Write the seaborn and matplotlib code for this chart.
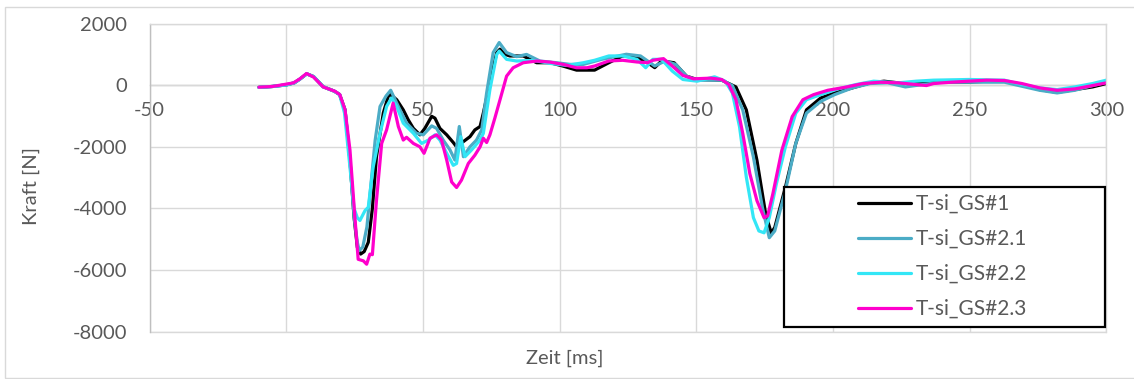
import numpy as np
import pandas as pd
import matplotlib
matplotlib.use("Agg")
import matplotlib.pyplot as plt
import matplotlib.patches as mpatches
import seaborn as sns

# ---------------- data ----------------
series_names = ["T-si_GS#1", "T-si_GS#2.1", "T-si_GS#2.2", "T-si_GS#2.3"]

t_gs1 = [-10, -5, 0, 3, 5, 7.5, 10, 13.5, 17.5, 19.5, 21.5, 23.3, 24.8, 26, 27.2, 28.5, 30, 31.5, 33, 35.5, 37.3,
         38.2, 40.4, 42.8, 44.6, 46.5, 48.9, 50.7, 53.2, 54.4, 56.2, 58.7, 61.1, 62.3, 64.8, 67.2, 69, 70.9, 72.1,
         74.5, 77, 78.2, 80, 81.8, 86.7, 91.6, 96.5, 101.3, 106.2, 112.8, 118, 123, 128.3, 132.2, 134.8, 137.3,
         141.9, 146.4, 150.3, 159.3, 164.5, 168.3, 172.2, 175.4, 177.4, 178.7, 182.6, 186.4, 190.3, 195.5, 200.6,
         207.1, 213.6, 218.7, 223.9, 230.4, 236.8, 249.7, 256.2, 262.7, 269.1, 275.6, 282, 288.5, 295, 300]
f_gs1 = [-70, -40, 10, 80, 200, 370, 280, -50, -190, -300, -800, -2430, -4280, -5260, -5480, -5400, -5100, -4000,
         -2320, -900, -360, -305, -470, -800, -1120, -1400, -1610, -1400, -1010, -1070, -1400, -1610, -1860, -2000,
         -1830, -1670, -1450, -1340, -900, 76, 1060, 1170, 1000, 950, 950, 730, 730, 620, 490, 490, 730, 950, 900,
         730, 570, 790, 730, 295, 186, 164, -55, -800, -2440, -4190, -4790, -4620, -3310, -1890, -800, -415, -250,
         -87, 77, 131, 77, 77, 98, 98, 131, 131, 22, -142, -230, -142, -55, 55]

t_gs21 = [-10, -5, 0, 3, 5, 7.5, 10, 13.5, 17.5, 19.5, 21.5, 23.3, 24.8, 26, 26.7, 28, 29.5, 31, 32.5, 34.3, 36.5,
          38.2, 41, 44, 47.6, 50.1, 53.2, 55, 57.4, 59.9, 61.7, 63.3, 64.8, 67.2, 69.6, 71.5, 73.3, 75.7, 77.9, 80.6,
          84.3, 87.9, 92.8, 98.9, 103.8, 108.7, 115.4, 124.4, 129.6, 132.2, 134.8, 138.6, 142.5, 146.4, 150.3,
          159.3, 163.2, 167, 170.9, 174.2, 176.7, 178.7, 182.6, 186.4, 190.3, 195.5, 200.6, 207.1, 213.6, 220,
          226.5, 232.9, 239.4, 249.7, 262.7, 269.1, 275.6, 282, 288.5, 295, 300]
f_gs21 = [-70, -40, 10, 80, 200, 370, 280, -50, -190, -300, -800, -2430, -4280, -5100, -5370, -5250, -4600, -3200,
          -1800, -690, -350, -164, -690, -1230, -1560, -1610, -1320, -1400, -1780, -2100, -2430, -1340, -2320,
          -2000, -1780, -1450, -250, 1060, 1385, 1060, 927, 1000, 785, 730, 676, 676, 840, 1005, 950, 787, 623,
          787, 676, 295, 164, 164, -11, -800, -2330, -3970, -4950, -4730, -3420, -1890, -907, -525, -306, -87, 55,
          77, -55, 22, 98, 98, 98, -33, -164, -250, -164, -11, 98]

t_gs22 = [-10, -5, 0, 3, 5, 7.5, 10, 13.5, 17.5, 19.5, 21.3, 23, 24.8, 26, 26.95, 28.8, 30, 31.8, 34.3, 36.7, 38.5,
          40.4, 42.8, 46.5, 49.5, 52, 54.4, 56.2, 58.7, 61.1, 62.3, 63.8, 65.4, 67.8, 70.9, 72.1, 74.5, 77, 77.9,
          80.6, 84.3, 90.4, 96.5, 102.6, 108.7, 112.8, 118, 123.1, 128.3, 131.5, 134.1, 137.3, 141.2, 145.1, 150.3,
          156.7, 160.6, 163.2, 165.8, 168.3, 170.9, 172.9, 174.8, 176.7, 179.3, 182.6, 186.4, 190.3, 195.5, 201.9,
          208.4, 214.9, 223.9, 230.4, 236.8, 249.7, 262.7, 269.1, 275.6, 282, 288.5, 295, 300]
f_gs22 = [-70, -40, 10, 80, 200, 370, 280, -50, -190, -300, -900, -2400, -4000, -4300, -4390, -4070, -3960, -2650,
          -1560, -690, -414, -690, -1230, -1560, -1890, -1780, -1610, -1780, -2210, -2600, -2540, -1670, -2320,
          -2100, -1780, -1560, -142, 1000, 1110, 840, 785, 807, 708, 643, 730, 810, 950, 950, 840, 568, 840, 840,
          460, 186, 131, 273, 131, -250, -1340, -2980, -4300, -4730, -4790, -4300, -3200, -2000, -907, -470, -306,
          -120, 22, 131, 77, 131, 164, 186, 164, 22, -87, -142, -55, 55, 164]

t_gs23 = [-10, -5, -1, 2.6, 5, 7.4, 9.9, 13.5, 17.8, 19.6, 21.5, 23.3, 25.1, 26.3, 28.2, 29.4, 30.6, 31.5, 33, 34.9,
          36.7, 39.1, 41, 42.8, 44, 46.5, 48.9, 50.4, 52.6, 55, 56.8, 58.7, 60.5, 62.3, 64.1, 66.6, 69, 70.9, 72.1,
          73.3, 74.5, 76.3, 78.2, 80.6, 83, 86.7, 91.6, 96.5, 101.3, 106.2, 110, 112.8, 118, 123.1, 128.3, 132.2,
          134.1, 138, 141.2, 145.1, 149, 155.4, 159.3, 161.9, 164.5, 167, 169.6, 172.2, 174.8, 176.1, 178, 181.3,
          185.1, 189, 192.9, 198.1, 204.5, 211, 217.4, 223.9, 230.4, 234.2, 236.8, 243.3, 249.7, 256.2, 262.7,
          269.1, 275.6, 282, 288.5, 295, 300]
f_gs23 = [-65, -40, 20, 76, 207, 380, 270, -55, -196, -305, -800, -2100, -4280, -5650, -5700, -5810, -5480, -5500,
          -3740, -1890, -1450, -580, -1340, -1780, -1690, -1890, -2000, -2210, -1720, -1610, -1780, -2430, -3140,
          -3320, -3080, -2540, -2270, -2000, -1720, -1860, -1610, -1070, -470, 295, 567, 730, 785, 750, 676, 567,
          567, 623, 787, 809, 754, 732, 809, 863, 623, 317, 208, 230, 186, 22, -470, -1563, -2875, -3750, -4300,
          -4240, -3530, -2110, -1017, -470, -306, -164, -66, 55, 98, 77, 22, -11, 55, 98, 131, 164, 153, 55, -87,
          -164, -120, -11, 77]

x_ticks = [-50, 0, 50, 100, 150, 200, 250, 300]
y_ticks = [-8000, -6000, -4000, -2000, 0, 2000]
x_label = "Zeit [ms]"
y_label = "Kraft [N]"

# ---------------- build table ----------------
frames = []
for name, t, f in zip(series_names, [t_gs1, t_gs21, t_gs22, t_gs23], [f_gs1, f_gs21, f_gs22, f_gs23]):
    frames.append(pd.DataFrame({"Zeit": t, "Kraft": f, "Serie": name}))
df = pd.concat(frames, ignore_index=True)

palette = {
    "T-si_GS#1": "#000000",
    "T-si_GS#2.1": "#4BACC6",
    "T-si_GS#2.2": "#33E6F6",
    "T-si_GS#2.3": "#FF00CC",
}

# ---------------- style ----------------
sns.set_theme(style="white")
plt.rcParams["font.family"] = ["Lato", "DejaVu Sans"]
text_color = "#595959"

W, H = 1134, 379
fig = plt.figure(figsize=(W / 100, H / 100), dpi=100)
L, R, T, B = 149.6, 1106.3, 23.6, 331.7
ax = fig.add_axes([L / W, 1 - B / H, (R - L) / W, (B - T) / H])

sns.lineplot(data=df, x="Zeit", y="Kraft", hue="Serie", hue_order=series_names, palette=palette,
             sort=False, estimator=None, units="Serie", linewidth=2.3, ax=ax, legend=True)

ax.set_xlim(-50, 300)
ax.set_ylim(-8000, 2000)
ax.set_xticks(x_ticks)
ax.set_yticks(y_ticks)
ax.set_xticklabels([str(v) for v in x_ticks])
ax.set_yticklabels([str(v) for v in y_ticks])
ax.grid(True, color="#D9D9D9", linewidth=1.0)
ax.set_axisbelow(True)
ax.set_xlabel("")
ax.set_ylabel("")

for s in ["top", "right"]:
    ax.spines[s].set_color("#D9D9D9")
    ax.spines[s].set_linewidth(1.0)
ax.spines["left"].set_color("#BFBFBF")
ax.spines["left"].set_linewidth(1.0)
ax.spines["bottom"].set_position(("data", 0))
ax.spines["bottom"].set_color("#BFBFBF")
ax.spines["bottom"].set_linewidth(1.0)
ax.spines["bottom"].set_zorder(0.5)
ax.axhline(-8000, color="#D9D9D9", linewidth=1.0, clip_on=False, zorder=0.4)

ax.tick_params(axis="both", length=0, labelsize=14.5, labelcolor=text_color)
ax.tick_params(axis="x", pad=12)
ax.tick_params(axis="y", pad=16)

fig.text(565 / W, 1 - 358 / H, x_label, ha="center", va="center", fontsize=14.5, color=text_color)
fig.text(31 / W, 1 - 186 / H, y_label, ha="center", va="center", rotation=90, fontsize=14.5, color=text_color)

# legend
handles, labels = ax.get_legend_handles_labels()
if ax.get_legend() is not None:
    ax.get_legend().remove()
for h in handles:
    h.set_linewidth(2.3)
box = mpatches.Rectangle((784 / W, 1 - 326.5 / H), (1105 - 784) / W, (326.5 - 187.4) / H,
                         transform=fig.transFigure, facecolor="white", edgecolor="black",
                         linewidth=1.6, zorder=3)
fig.add_artist(box)
fig.legend(handles, labels, loc="upper left", bbox_to_anchor=(858 / W, 1 - 194 / H),
           bbox_transform=fig.transFigure, frameon=False, fontsize=15, labelcolor=text_color,
           handlelength=2.55, handletextpad=0.2, labelspacing=0.72, borderpad=0, borderaxespad=0)

# outer chart border (left, top, bottom)
outer = mpatches.Rectangle((5 / W, 1 - 377.5 / H), 1.2, (377.5 - 6.7) / H, transform=fig.transFigure,
                           facecolor="none", edgecolor="#D9D9D9", linewidth=1.0, zorder=0)
fig.add_artist(outer)

fig.savefig("out.png", dpi=100)
